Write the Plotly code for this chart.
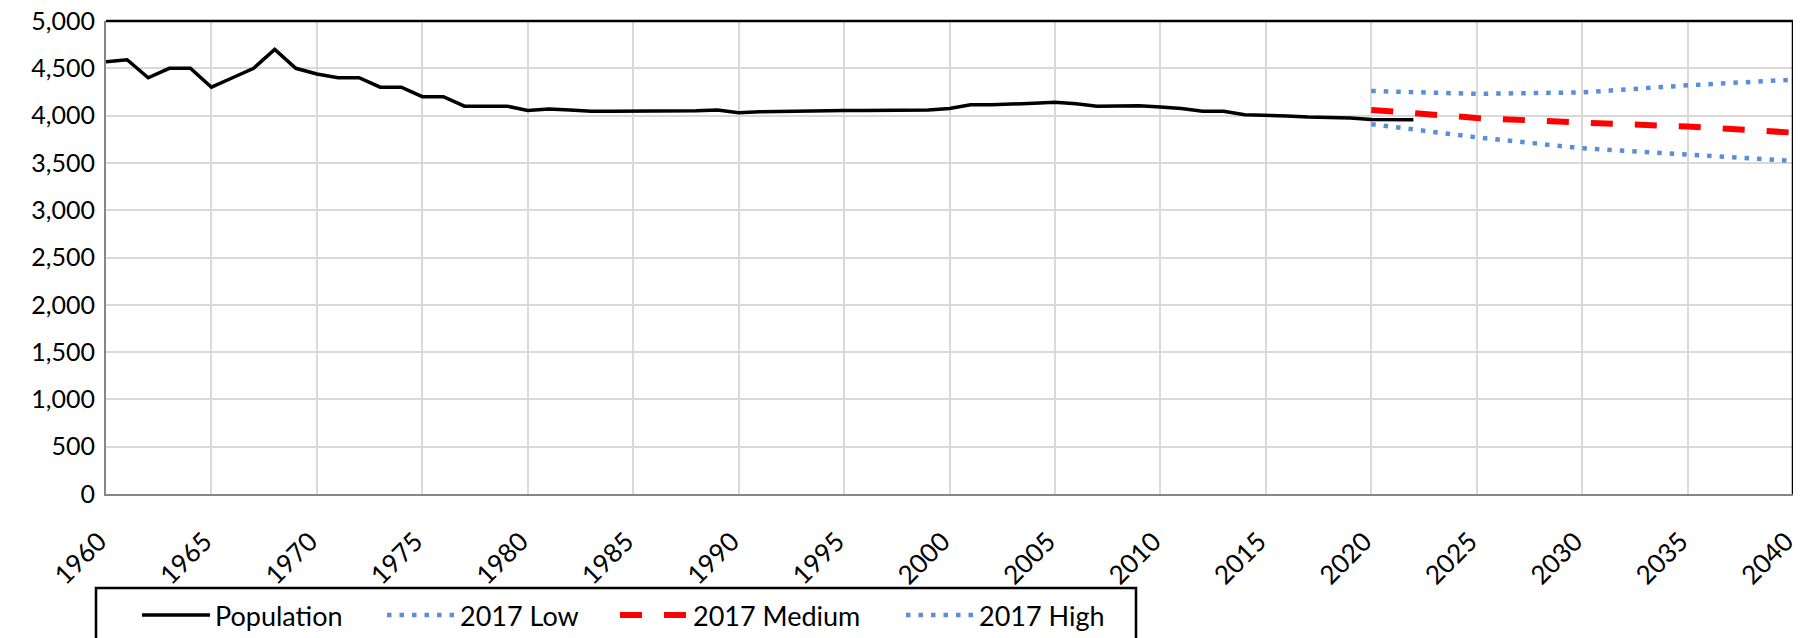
import plotly.graph_objects as go

# ---- data ----
pop_years = list(range(1960, 2023))
pop_values = [4570, 4590, 4400, 4500, 4500, 4300, 4400, 4500, 4700, 4500,
              4440, 4400, 4400, 4300, 4300, 4200, 4200, 4100, 4100, 4100,
              4055, 4070, 4060, 4045, 4045, 4045, 4045, 4045, 4050, 4060,
              4030, 4040, 4045, 4045, 4055, 4055, 4055, 4055, 4055, 4060,
              4075, 4115, 4115, 4118, 4130, 4140, 4126, 4100, 4105, 4105,
              4090, 4075, 4045, 4045, 4010, 4005, 3995, 3985, 3980, 3975,
              3960, 3955, 3955]

proj_years = [2020, 2025, 2030, 2035, 2040]
low_values = [3910, 3770, 3655, 3590, 3520]
medium_values = [4060, 3975, 3925, 3885, 3820]
high_values = [4260, 4230, 4245, 4320, 4380]

x_ticks = list(range(1960, 2041, 5))
y_ticks = list(range(0, 5001, 500))

FONT = "Lato"
BLUE = "#5A8ED6"

# plot area geometry (figure px); page has an 8px body offset
L, R, T, B = 98, 16, 13, 152
PW = 1801 - L - R
PH = 638 - T - B

def px_x(p):
    return p / PW

fig = go.Figure()
fig.add_trace(go.Scatter(x=pop_years, y=pop_values, mode="lines", name="Population",
                         line=dict(color="black", width=3.5), legend="legend"))
fig.add_trace(go.Scatter(x=proj_years, y=low_values, mode="lines", name="2017 Low",
                         line=dict(color=BLUE, width=4.5, dash="4.5px,8px"), legend="legend2"))
fig.add_trace(go.Scatter(x=proj_years, y=medium_values, mode="lines", name="2017 Medium",
                         line=dict(color="#FF0000", width=6, dash="22px,22px"), legend="legend3"))
fig.add_trace(go.Scatter(x=proj_years, y=high_values, mode="lines", name="2017 High",
                         line=dict(color=BLUE, width=4.5, dash="4.5px,8px"), legend="legend4"))

leg_y = -0.205
def leg(xpx):
    return dict(orientation="h", x=px_x(xpx), xanchor="left", y=leg_y, yanchor="top",
                font=dict(family=FONT, size=27, color="black"),
                itemwidth=68, bgcolor="rgba(0,0,0,0)", borderwidth=0)

fig.update_layout(
    width=1801, height=638,
    margin=dict(l=L, r=R, t=T, b=B, autoexpand=False),
    paper_bgcolor="white", plot_bgcolor="white",
    font=dict(family=FONT, size=25, color="black"),
    showlegend=True,
    legend=leg(31), legend2=leg(276), legend3=leg(509), legend4=leg(795),
    xaxis=dict(range=[1959.999, 2040.001], tickmode="array", tickvals=x_ticks,
               ticktext=[str(v) for v in x_ticks], tickangle=-45,
               showgrid=True, gridcolor="#D9D9D9", gridwidth=2,
               showline=True, linecolor="#868686", linewidth=2,
               ticks="", ticklabelstandoff=20, ticklabelshift=-7, zeroline=False,
               ticklabeloverflow="allow",
               tickfont=dict(family=FONT, size=26)),
    yaxis=dict(range=[0, 5000], tickmode="array", tickvals=y_ticks,
               tickformat=",", showgrid=True, gridcolor="#D9D9D9", gridwidth=2,
               showline=True, linecolor="#868686", linewidth=2,
               ticks="", ticklabelstandoff=4, zeroline=False,
               ticklabeloverflow="allow",
               tickfont=dict(family=FONT, size=25)),
    shapes=[
        dict(type="line", xref="paper", yref="paper", x0=0, x1=1, y0=1, y1=1,
             line=dict(color="black", width=2.5)),
        dict(type="line", xref="paper", yref="paper", x0=1, x1=1, y0=0, y1=1,
             line=dict(color="black", width=2.5)),
        dict(type="rect", xref="paper", yref="paper",
             x0=px_x(-10), x1=px_x(1030),
             y0=-170 / PH, y1=-94 / PH,
             line=dict(color="black", width=2.5)),
    ],
)

fig.write_html("out.html")
